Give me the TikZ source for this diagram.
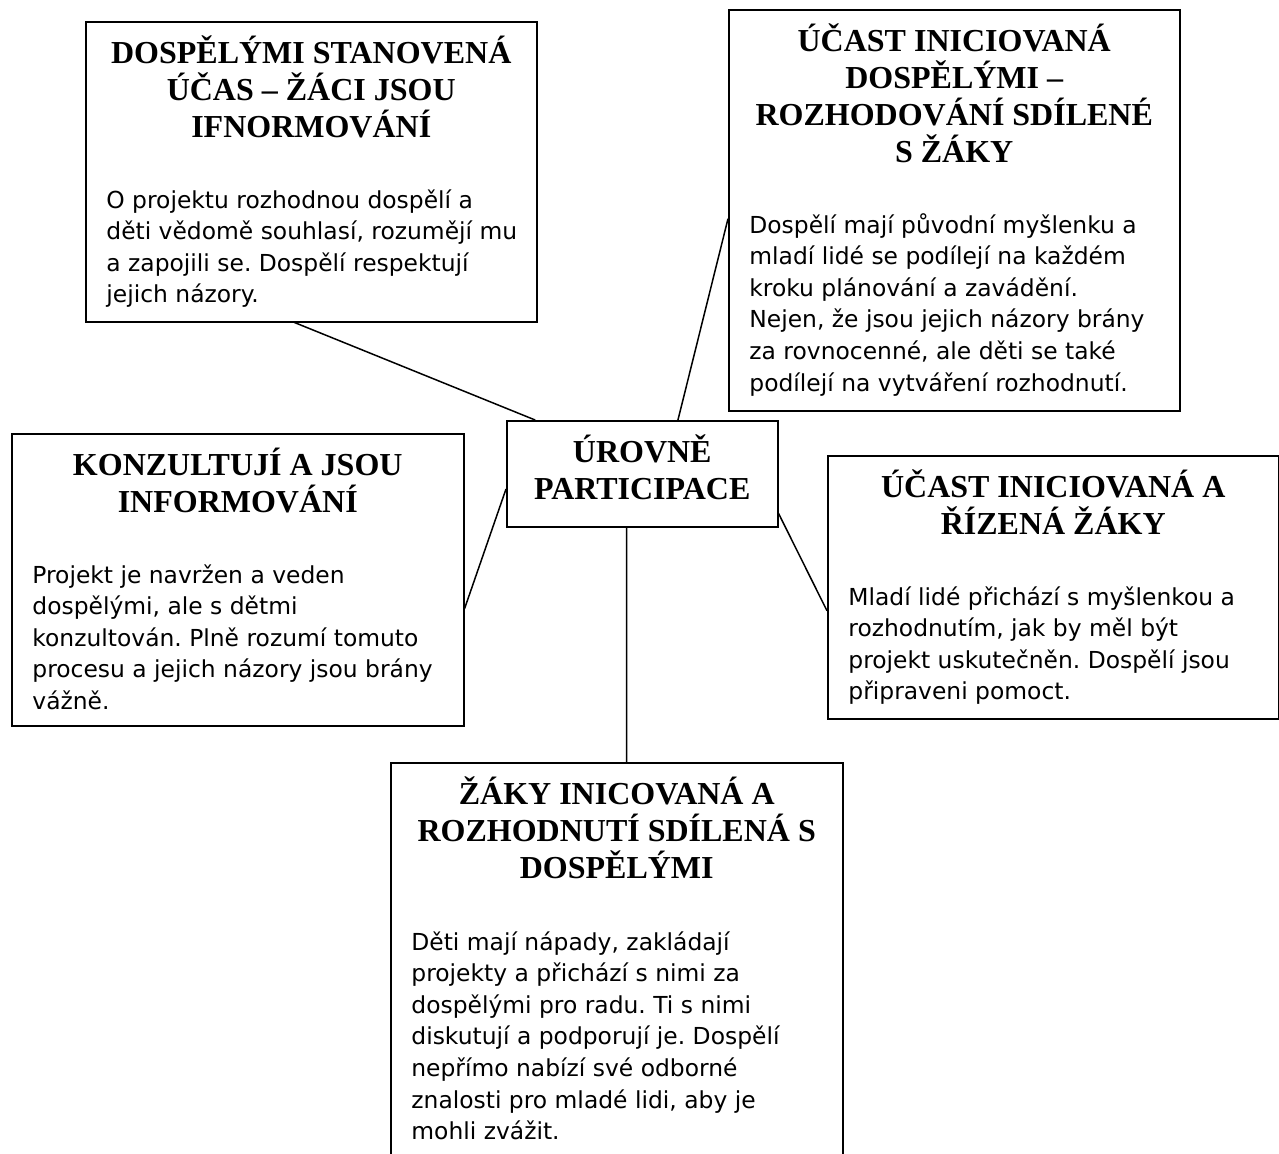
\documentclass[tikz,border=0pt]{standalone}
\usepackage{fontspec}
\usepackage{tikz}
\usetikzlibrary{calc}
\newfontfamily\headfont{Liberation Serif}
\newfontfamily\bodyfont{DejaVu Sans}
\frenchspacing
\newcommand{\headtext}[1]{\parbox[t]{220pt}{\centering\headfont\bfseries\fontsize{16}{18.5}\selectfont #1}}
\newcommand{\bodytext}[1]{\parbox[t]{240pt}{\raggedright\bodyfont\fontsize{11.7}{15.8}\selectfont #1}}

\begin{document}
\begin{tikzpicture}[x=0.5pt, y=-0.5pt,
    panel/.style 2 args={draw, line width=0.75pt, anchor=north west, inner sep=0pt,
        minimum width=#1*0.5pt, minimum height=#2*0.5pt},
    head/.style={anchor=base, inner sep=0pt},
    body/.style={anchor=base west, inner sep=0pt},
    link/.style={line width=0.75pt}]
  \useasboundingbox (0,0) rectangle (1279,1153);
  \clip (0,0) rectangle (1279,1153);

  % centre %
  \node[panel={271}{106}] (core) at (506,420) {};
  \node[head] (core-head) at ($(core.north)+(0,42)$) {\headtext{ÚROVNĚ\\PARTICIPACE}};

  % adults decide, pupils informed %
  \node[panel={451}{300}] (told) at (85,21) {};
  \node[head] (told-head) at ($(told.north)+(0,42)$) {\headtext{DOSPĚLÝMI STANOVENÁ\\ÚČAS – ŽÁCI JSOU\\IFNORMOVÁNÍ}};
  \node[body] (told-text) at ($(told.north west)+(21,187)$) {\bodytext{O projektu rozhodnou dospělí a\\děti vědomě souhlasí, rozumějí mu\\a zapojili se. Dospělí respektují\\jejich názory.}};

  % adults initiate, shared decisions %
  \node[panel={451}{401}] (shared) at (728,9) {};
  \node[head] (shared-head) at ($(shared.north)+(0,42)$) {\headtext{ÚČAST INICIOVANÁ\\DOSPĚLÝMI –\\ROZHODOVÁNÍ SDÍLENÉ\\S ŽÁKY}};
  \node[body] (shared-text) at ($(shared.north west)+(21,224)$) {\bodytext{Dospělí mají původní myšlenku a\\mladí lidé se podílejí na každém\\kroku plánování a zavádění.\\Nejen, že jsou jejich názory brány\\za rovnocenné, ale děti se také\\podílejí na vytváření rozhodnutí.}};

  % consulted %
  \node[panel={452}{292}] (asked) at (11,433) {};
  \node[head] (asked-head) at ($(asked.north)+(0,42)$) {\headtext{KONZULTUJÍ A JSOU\\INFORMOVÁNÍ}};
  \node[body] (asked-text) at ($(asked.north west)+(21,150)$) {\bodytext{Projekt je navržen a veden\\dospělými, ale s dětmi\\konzultován. Plně rozumí tomuto\\procesu a jejich názory jsou brány\\vážně.}};

  % pupils lead %
  \node[panel={451}{263}] (led) at (827,455) {};
  \node[head] (led-head) at ($(led.north)+(0,42)$) {\headtext{ÚČAST INICIOVANÁ A\\ŘÍZENÁ ŽÁKY}};
  \node[body] (led-text) at ($(led.north west)+(21,150)$) {\bodytext{Mladí lidé přichází s myšlenkou a\\rozhodnutím, jak by měl být\\projekt uskutečněn. Dospělí jsou\\připraveni pomoct.}};

  % pupils initiate, shared with adults %
  \node[panel={452}{400}] (joint) at (390,762) {};
  \node[head] (joint-head) at ($(joint.north)+(0,42)$) {\headtext{ŽÁKY INICOVANÁ A\\ROZHODNUTÍ SDÍLENÁ S\\DOSPĚLÝMI}};
  \node[body] (joint-text) at ($(joint.north west)+(21,188)$) {\bodytext{Děti mají nápady, zakládají\\projekty a přichází s nimi za\\dospělými pro radu. Ti s nimi\\diskutují a podporují je. Dospělí\\nepřímo nabízí své odborné\\znalosti pro mladé lidi, aby je\\mohli zvážit.}};

  % links %
  \draw[link] ($(told.south west)!0.463!(told.south east)$) -- ($(core.north west)!0.107!(core.north east)$);
  \draw[link] ($(shared.north west)!0.521!(shared.south west)$) -- ($(core.north west)!0.631!(core.north east)$);
  \draw[link] ($(core.north west)!0.642!(core.south west)$) -- ($(asked.north east)!0.599!(asked.south east)$);
  \draw[link] ($(core.north east)!0.868!(core.south east)$) -- ($(led.north west)!0.589!(led.south west)$);
  \draw[link] ($(core.south west)!0.443!(core.south east)$) -- ($(joint.north west)!0.522!(joint.north east)$);
\end{tikzpicture}
\end{document}
